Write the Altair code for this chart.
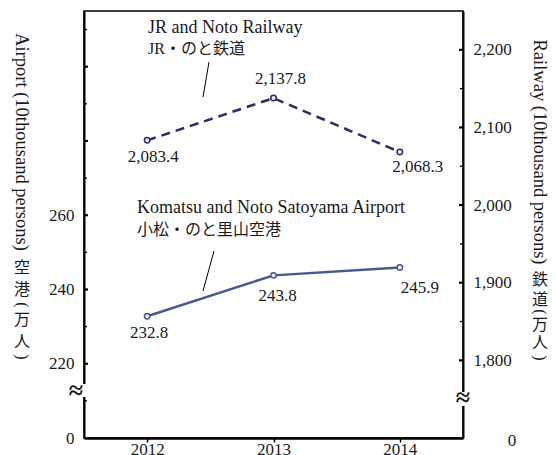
import altair as alt
import pandas as pd

# ---------------- data ----------------
years = [2012, 2013, 2014]
railway = [2083.4, 2137.8, 2068.3]
airport = [232.8, 243.8, 245.9]

left_label_values = [200, 220, 240, 260]          # 200 is shown as "0" (broken axis)
left_major_ticks = [220, 240, 260, 280, 300]
left_minor_ticks = [210, 230, 250, 270, 290, 310]
right_label_values = [1800, 1900, 2000, 2100, 2200]
right_minor_ticks = [1850, 1950, 2050, 2150]

rail_name_en = "JR and Noto Railway"
rail_name_ja = "JR・のと鉄道"
air_name_en = "Komatsu and Noto Satoyama Airport"
air_name_ja = "小松・のと里山空港"
left_title_en = "Airport (10thousand persons)"
left_title_ja = ["空", "港", "(", "万", "人", ")"]
right_title_en = "Railway (10thousand persons)"
right_title_ja = ["鉄", "道", "(", "万", "人", ")"]

# ---------------- style ----------------
FONT = "Liberation Serif, Noto Sans CJK JP"
FS = 17
FS_ANN = 18
FS_JA = 16
TXT = "#1a1a1a"
RAIL = "#2d2f5e"
AIR = "#4a5890"
PT_FILL = "#e9ebf5"
W, H = 379, 427

air_df = pd.DataFrame({"year": years, "v": airport})
rail_df = pd.DataFrame({"year": years, "v": railway})

xs = alt.Scale(domain=[2011.5, 2014.5], nice=False, zero=False)
yl = alt.Scale(domain=[200, 315], nice=False, zero=False)
yr = alt.Scale(domain=[1700, 2250], nice=False, zero=False)

X = alt.X("year:Q", scale=xs, axis=alt.Axis(
    values=years, format="d", title=None, grid=False,
    domainColor="black", domainWidth=2.5, tickColor="black", tickSize=4,
    tickWidth=1.5, labelFont=FONT, labelFontSize=FS, labelColor=TXT,
    labelPadding=-1))

YL = alt.Y("v:Q", scale=yl, axis=alt.Axis(
    orient="left", values=left_label_values,
    labelExpr="datum.value == 200 ? '0' : format(datum.value, 'd')",
    ticks=False, tickSize=0, grid=False, title=None,
    domainColor="black", domainWidth=2, labelFont=FONT, labelFontSize=FS,
    labelColor=TXT, labelPadding=10))

YR = alt.Y("v:Q", scale=yr, axis=alt.Axis(
    orient="right", values=right_label_values,
    labelExpr="format(datum.value, ',.0f')",
    ticks=False, tickSize=0, grid=False, title=None,
    domainColor="black", domainWidth=2, labelFont=FONT, labelFontSize=FS,
    labelColor=TXT, labelPadding=10))


def tick_layer(vals, Y, x0, x1, width):
    return alt.Chart(pd.DataFrame({"v": vals})).mark_rule(
        color="black", strokeWidth=width).encode(
        y=Y, x=alt.value(x0), x2=alt.value(x1))


def label_layers(df, Y, fmt, offsets):
    out = []
    for i, (dx, dy) in enumerate(offsets):
        out.append(alt.Chart(df.iloc[[i]]).mark_text(
            font=FONT, fontSize=FS, color=TXT, dx=dx, dy=dy,
            baseline="middle", align="center").encode(
            x=X, y=Y, text=alt.Text("v:Q", format=fmt)))
    return out


def point_layer(df, Y, color):
    return alt.Chart(df).mark_point(
        shape="circle", size=30, fill=PT_FILL, fillOpacity=1,
        stroke=color, strokeWidth=1.5, opacity=1).encode(x=X, y=Y)


left_group = alt.layer(
    alt.Chart(air_df).mark_line(color=AIR, strokeWidth=2.5).encode(x=X, y=YL),
    point_layer(air_df, YL, AIR),
    *label_layers(air_df, YL, ".1f", [(2, 17), (4, 21), (20, 20)]),
    tick_layer(left_major_ticks, YL, 0, 4, 2.2),
    tick_layer(left_minor_ticks, YL, 0, 3, 1.3),
)

right_group = alt.layer(
    alt.Chart(rail_df).mark_line(color=RAIL, strokeWidth=2.5,
                                 strokeDash=[9, 6]).encode(x=X, y=YR),
    point_layer(rail_df, YR, RAIL),
    *label_layers(rail_df, YR, ",.1f", [(6, 17), (7, -19), (18, 15)]),
    tick_layer(right_label_values, YR, W - 4, W, 2.2),
    tick_layer(right_minor_ticks, YR, W - 3, W, 1.3),
)

DUMMY = alt.Data(values=[{}])


def txt(s, x, y, size=FS, angle=0, align="left", weight="normal"):
    kw = dict(text=s, font=FONT, fontSize=size, color=TXT, align=align,
              baseline="middle", fontWeight=weight)
    if angle:
        kw["angle"] = angle
    return alt.Chart(DUMMY).mark_text(**kw).encode(
        x=alt.value(x), y=alt.value(y))


def seg(x1, y1, x2, y2, width=1.0, color="black"):
    return alt.Chart(DUMMY).mark_rule(color=color, strokeWidth=width).encode(
        x=alt.value(x1), y=alt.value(y1), x2=alt.value(x2), y2=alt.value(y2))


def white_box(x1, y1, x2, y2):
    return alt.Chart(DUMMY).mark_rect(color="white").encode(
        x=alt.value(x1), y=alt.value(y1), x2=alt.value(x2), y2=alt.value(y2))


annotations = [
    txt(rail_name_en, 64, 17, size=FS_ANN),
    txt(rail_name_ja, 64, 38, size=FS_JA),
    seg(125, 51, 119, 86),
    txt(air_name_en, 53, 197, size=FS_ANN),
    txt(air_name_ja, 53, 219, size=FS_JA),
    seg(130, 240, 119, 280),
    # axis titles (Latin rotated, CJK upright)
    txt(left_title_en, -62, 131, size=18.5, angle=90, align="center"),
    txt(right_title_en, 456, 141, size=18.5, angle=90, align="center"),
    # right "0" of the broken axis
    txt("0", 428, 430, align="center"),
    # axis breaks
    white_box(-3, 373, 3, 386),
    white_box(W - 3, 381, W + 3, 395),
    txt("≈", -8, 380, size=26, align="center", weight="bold"),
    txt("≈", W, 387, size=26, align="center", weight="bold"),
]

left_ja_y = [257, 279, 294, 309, 331, 346]
right_ja_y = [269, 289, 301, 314, 332, 347]
for ch, yy in zip(left_title_ja, left_ja_y):
    rot = 90 if ch in "()" else 0
    annotations.append(txt(ch, -62, yy, size=FS_JA, angle=rot, align="center"))
for ch, yy in zip(right_title_ja, right_ja_y):
    rot = 90 if ch in "()" else 0
    annotations.append(txt(ch, 456, yy, size=FS_JA, angle=rot, align="center"))

chart = alt.layer(left_group, right_group, *annotations).resolve_scale(
    y="independent"
).properties(
    width=W, height=H,
    autosize=alt.AutoSizeParams(type="none"),
    padding={"left": 76, "top": 3, "right": 85, "bottom": 25},
).configure_view(stroke="black", strokeWidth=1.5)

chart.save("out.html", embed_options={"renderer": "svg", "actions": False})
